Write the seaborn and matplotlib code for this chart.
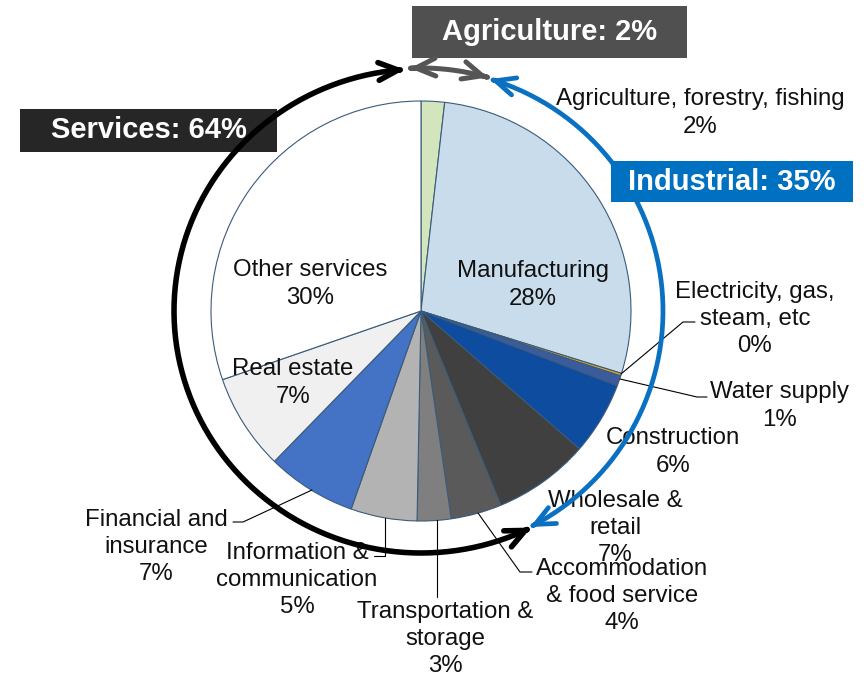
import numpy as np
import pandas as pd
import matplotlib
matplotlib.use("Agg")
import matplotlib.pyplot as plt
from matplotlib.patches import FancyArrowPatch, Rectangle
from matplotlib.path import Path
import seaborn as sns

# ---- data -----------------------------------------------------------------
sectors = [
    "Agriculture, forestry, fishing", "Manufacturing", "Electricity, gas, steam, etc",
    "Water supply", "Construction", "Wholesale & retail",
    "Accommodation & food service", "Transportation & storage",
    "Information & communication", "Financial and insurance",
    "Real estate", "Other services",
]
label_text = [
    "Agriculture, forestry, fishing", "Manufacturing", "Electricity, gas,\nsteam, etc",
    "Water supply", "Construction", "Wholesale &\nretail",
    "Accommodation\n& food service", "Transportation &\nstorage",
    "Information &\ncommunication", "Financial and\ninsurance",
    "Real estate", "Other services",
]
shares = [1.8, 28.0, 0.2, 0.8, 5.6, 7.4, 3.9, 2.6, 5.1, 6.9, 7.4, 30.3]
groups = ["Agriculture", "Industrial", "Industrial", "Industrial", "Industrial",
          "Services", "Services", "Services", "Services", "Services",
          "Services", "Services"]
slice_colors = ["#d3e5bd", "#c9dcec", "#e5a41c", "#3a5c9c", "#0d4c9e", "#404040",
                "#5a5a5a", "#7f7f7f", "#b3b3b3", "#4472c4", "#f0f0f0", "#ffffff"]

df = pd.DataFrame({"sector": sectors, "share": shares, "group": groups})
group_totals = df.groupby("group")["share"].sum()

# ---- style ----------------------------------------------------------------
sns.set_theme(style="white")
plt.rcParams["font.family"] = ["Liberation Sans", "DejaVu Sans"]

W, H = 868, 678
fig = plt.figure(figsize=(W / 100, H / 100), dpi=100)
ax = fig.add_axes([0, 0, 1, 1])

def Y(py):
    return H - py

CX, CY, R = 421, Y(311), 210

ax.pie(df["share"], colors=slice_colors, startangle=90, counterclock=False,
       center=(CX, CY), radius=R, frame=True,
       wedgeprops=dict(edgecolor="#3b5b7a", linewidth=0.8))

ax.set_xlim(0, W)
ax.set_ylim(0, H)
ax.set_aspect("equal")
ax.axis("off")

# ---- slice labels -----------------------------------------------------------
label_pos = [(700, 113), (533, 285), (755, 319), (779, 406), (673, 452),
             (615, 528), (622, 596), (445, 639), (297, 580), (156, 547),
             (293, 383), (310, 284)]
for name, val, (px, py) in zip(label_text, df["share"], label_pos):
    ax.text(px, Y(py), f"{name}\n{val:.0f}%", ha="center", va="center",
            fontsize=17.3, color="#111111", linespacing=1.3, zorder=6)

# leader lines
leaders = [
    [(621, 374), (683, 322), (695, 322)],            # electricity
    [(620, 379), (697, 397), (707, 397)],            # water supply
    [(478, 513), (520, 572), (532, 572)],            # accommodation
    [(437, 520), (437, 597)],                        # transportation
    [(385, 518), (385, 556), (374, 556)],            # information
    [(312, 490), (243, 522), (233, 522)],            # financial
]
for pts in leaders:
    xs = [p[0] for p in pts]
    ys = [Y(p[1]) for p in pts]
    ax.plot(xs, ys, color="black", lw=0.8, zorder=4)

# ---- group arcs -------------------------------------------------------------
def arc(th0, th1, rx, ry, n=200):
    t = np.radians(np.linspace(th0, th1, n))
    return Path(np.column_stack([CX + rx * np.sin(t), CY + ry * np.cos(t)]))

arcs = [
    (153.5, 356.2, 247, 242, "black", 4.0, 7),
    (-2.6, 16.0, 243, 243, "#555555", 3.6, 7),
    (16.6, 153.2, 242, 242, "#0a70c2", 3.4, 7),
]
for th0, th1, rx, ry, col, lw, z in arcs:
    fa = FancyArrowPatch(path=arc(th0, th1, rx, ry),
                         arrowstyle="<->,head_length=0.7,head_width=0.32",
                         mutation_scale=20, lw=lw, color=col,
                         shrinkA=0, shrinkB=0, capstyle="round",
                         joinstyle="round", zorder=z)
    ax.add_patch(fa)

# ---- group boxes ------------------------------------------------------------
boxes = [
    ("Agriculture", (412, 6, 687, 58), "#505050", 5),
    ("Services", (20, 109, 277, 152), "#262626", 5),
    ("Industrial", (611, 161, 853, 202), "#0070c0", 8),
]
for grp, (x0, y0, x1, y1), col, z in boxes:
    ax.add_patch(Rectangle((x0, Y(y1)), x1 - x0, y1 - y0, facecolor=col,
                           edgecolor="none", zorder=z))
    ax.text((x0 + x1) / 2, Y((y0 + y1) / 2), f"{grp}: {group_totals[grp]:.0f}%",
            ha="center", va="center", color="white", fontsize=21,
            fontweight="bold", zorder=z + 0.5)

fig.savefig("out.png", dpi=100)
